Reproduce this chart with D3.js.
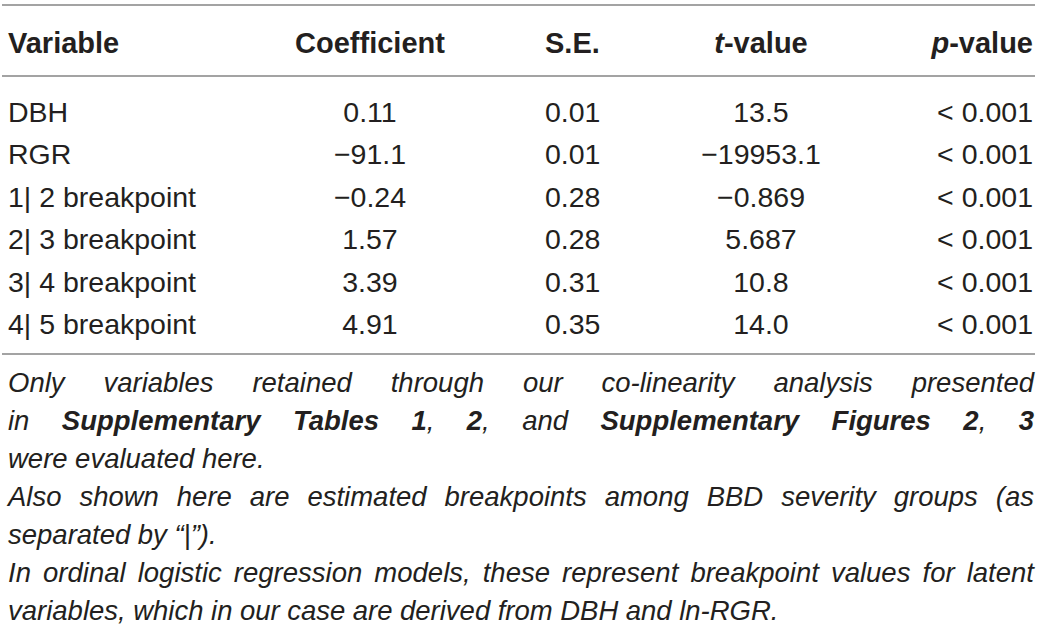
<!DOCTYPE html>
<html>
<head>
<meta charset="utf-8">
<script src="https://cdn.jsdelivr.net/npm/d3@7"></script>
<style>
  body { margin: 0; background: #fff; }
  text { font-family: "Liberation Sans", Arial, sans-serif; fill: #231f20; }
</style>
</head>
<body>
<script>
// table contents
const variables = ["DBH", "RGR", "1| 2 breakpoint", "2| 3 breakpoint", "3| 4 breakpoint", "4| 5 breakpoint"];
const coefficients = ["0.11", "\u221291.1", "\u22120.24", "1.57", "3.39", "4.91"];
const stdErrors = ["0.01", "0.01", "0.28", "0.28", "0.31", "0.35"];
const tValues = ["13.5", "\u221219953.1", "\u22120.869", "5.687", "10.8", "14.0"];
const pValues = ["< 0.001", "< 0.001", "< 0.001", "< 0.001", "< 0.001", "< 0.001"];

// footnote lines, **bold** marks, true = justified
const noteLines = [
  ["Only variables retained through our co-linearity analysis presented", true],
  ["in **Supplementary** **Tables** **1**, **2**, and **Supplementary** **Figures** **2**, **3**", true],
  ["were evaluated here.", false],
  ["Also shown here are estimated breakpoints among BBD severity groups (as", true],
  ["separated by \u201c|\u201d).", false],
  ["In ordinal logistic regression models, these represent breakpoint values for latent", true],
  ["variables, which in our case are derived from DBH and ln-RGR.", false]
];

let width = 1043,
    height = 625,
    left = 8,
    right = 1034;

const svg = d3.select("body").append("svg")
  .attr("width", width)
  .attr("height", height);

// rules
svg.selectAll("line.rule")
  .data([5, 76, 354])
  .join("line")
  .attr("class", "rule")
  .attr("x1", 2).attr("x2", right + 1)
  .attr("y1", d => d).attr("y2", d => d)
  .attr("stroke", "#a3a3a3")
  .attr("stroke-width", 2);

let columns = [
  { head: [["Variable", ""]], values: variables, x: left, anchor: "start" },
  { head: [["Coefficient", ""]], values: coefficients, x: 370, anchor: "middle" },
  { head: [["S.E.", ""]], values: stdErrors, x: 545, anchor: "start" },
  { head: [["t", "italic"], ["-value", ""]], values: tValues, x: 761, anchor: "middle" },
  { head: [["p", "italic"], ["-value", ""]], values: pValues, x: right - 1, anchor: "end" }
];

let y = d3.scalePoint()
  .domain(d3.range(variables.length))
  .range([122, 334]);

for (let col of columns) {
  let h = svg.append("text")
    .attr("x", col.x)
    .attr("y", 53)
    .attr("text-anchor", col.anchor)
    .style("font-size", "29px")
    .style("font-weight", "bold");
  h.selectAll("tspan")
    .data(col.head)
    .join("tspan")
    .style("font-style", d => d[1] || null)
    .text(d => d[0]);

  svg.append("g")
    .selectAll("text")
    .data(col.values)
    .join("text")
    .attr("x", col.x)
    .attr("y", (d, i) => y(i))
    .attr("text-anchor", col.anchor)
    .style("font-size", "28.5px")
    .text(d => d);
}

// footnotes
let ny = d3.scalePoint()
  .domain(d3.range(noteLines.length))
  .range([392, 620]);

noteLines.forEach(([line, justify], li) => {
  let words = line.split(" ");
  let g = svg.append("g");
  let nodes = words.map(w => {
    let t = g.append("text")
      .attr("y", ny(li))
      .style("font-size", "27.5px")
      .style("font-style", "italic");
    let parts = w.split(/(\*\*[^*]+\*\*)/).filter(p => p.length);
    for (let p of parts) {
      let bold = p.startsWith("**");
      t.append("tspan")
        .style("font-weight", bold ? "bold" : null)
        .text(bold ? p.slice(2, -2) : p);
    }
    return t;
  });
  let widths = nodes.map(n => n.node().getComputedTextLength());
  let space = 7.5;
  if (justify && nodes.length > 1) {
    space = (right - left - d3.sum(widths)) / (nodes.length - 1);
  }
  let x = left;
  nodes.forEach((n, i) => {
    n.attr("x", x);
    x += widths[i] + space;
  });
});
</script>
</body>
</html>
